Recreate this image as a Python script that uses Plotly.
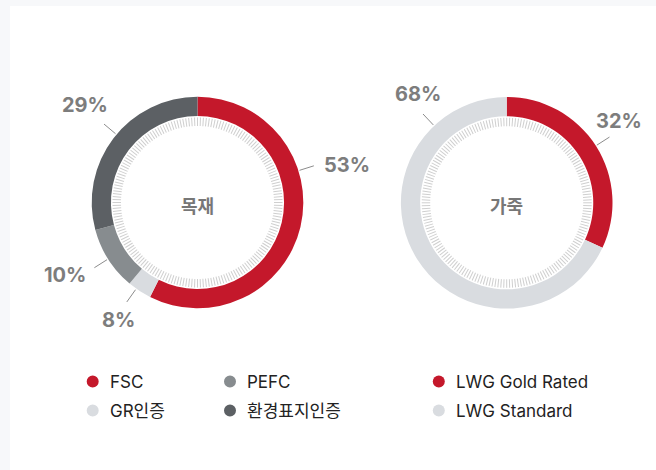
import math
import plotly.graph_objects as go

# ---------------- data ----------------
wood_labels = ["FSC", "GR인증", "PEFC", "환경표지인증"]
wood_values = [57.4, 3.7, 9.7, 29.2]          # arc shares as drawn
wood_text = ["53%", "8%", "10%", "29%"]       # printed percentages
leather_labels = ["LWG Gold Rated", "LWG Standard"]
leather_values = [32, 68]
leather_text = ["32%", "68%"]
center_titles = ["목재", "가죽"]

legend_columns = [["FSC", "GR인증"], ["PEFC", "환경표지인증"], ["LWG Gold Rated", "LWG Standard"]]

# ---------------- styles / layout ----------------
W, H = 656, 470
RED, LIGHT, MID, DARK = "#c4182b", "#d9dce0", "#878c8f", "#5c6064"
wood_colors = [RED, LIGHT, MID, DARK]
leather_colors = [RED, LIGHT]
color_of = dict(zip(wood_labels, wood_colors))
color_of.update(dict(zip(leather_labels, leather_colors)))

CENTERS = [(197.5, 202.5), (506.7, 202.8)]
R_OUT = 105.8
HOLE = 0.818
R_TICK = 85.5
FONT = "Inter, 'Noto Sans CJK KR', sans-serif"

# label placement: (leader angle, label angle, label radius) in degrees clockwise from 12 o'clock
wood_label_pos = [(72.5, 75.9, 153.8), (215.4, 213.9, 141.6), (237.7, 241.3, 151.0), (310.0, 310.8, 149.0)]
leather_label_pos = [(57.4, 53.9, 139.0), (316.7, 320.9, 140.8)]
LINE_R0, LINE_R1 = 107, 122


def fx(x):
    return x / W


def fy(y):
    return 1 - y / H


fig = go.Figure()
shapes = []
annotations = []

# white card
shapes.append(dict(type="rect", xref="paper", yref="paper", x0=fx(10), x1=1.01, y0=-0.01, y1=fy(6),
                   fillcolor="white", line=dict(width=0), layer="below"))

charts = [
    (wood_labels, wood_values, wood_colors, wood_text, wood_label_pos),
    (leather_labels, leather_values, leather_colors, leather_text, leather_label_pos),
]

polar_layouts = {}
for i, ((labels, values, colors, texts, lpos), (cx, cy), title) in enumerate(zip(charts, CENTERS, center_titles)):
    fig.add_trace(go.Pie(
        labels=labels, values=values, sort=False, direction="clockwise", rotation=0,
        hole=HOLE, marker=dict(colors=colors, line=dict(width=0)),
        textinfo="none", hoverinfo="label+percent", showlegend=False,
        domain=dict(x=[fx(cx - R_OUT), fx(cx + R_OUT)], y=[fy(cy + R_OUT), fy(cy - R_OUT)]),
    ))
    # tick ring via polar angular axis ticks
    pname = "polar" if i == 0 else f"polar{i + 1}"
    fig.add_trace(go.Scatterpolar(r=[None], theta=[None], subplot=pname, showlegend=False, hoverinfo="skip"))
    polar_layouts[pname] = dict(
        domain=dict(x=[fx(cx - R_TICK), fx(cx + R_TICK)], y=[fy(cy + R_TICK), fy(cy - R_TICK)]),
        bgcolor="rgba(0,0,0,0)",
        radialaxis=dict(visible=False),
        angularaxis=dict(rotation=90, direction="clockwise", tickmode="linear", tick0=0, dtick=2,
                         ticks="inside", ticklen=8.5, tickwidth=1, tickcolor="#cfcfcf",
                         showticklabels=False, showgrid=False, showline=False),
    )
    # center title
    annotations.append(dict(text=f"<b>{title}</b>", x=fx(cx), y=fy(cy + 4), xref="paper", yref="paper",
                            showarrow=False, font=dict(family=FONT, size=18, color="#777777"),
                            xanchor="center", yanchor="middle"))
    # leader lines + labels
    for t, (a_line, a_lab, r_lab) in zip(texts, lpos):
        sa, ca = math.sin(math.radians(a_line)), math.cos(math.radians(a_line))
        shapes.append(dict(type="line", xref="paper", yref="paper",
                           x0=fx(cx + LINE_R0 * sa), y0=fy(cy - LINE_R0 * ca),
                           x1=fx(cx + LINE_R1 * sa), y1=fy(cy - LINE_R1 * ca),
                           line=dict(color="#8c8c8c", width=1)))
        sb, cb = math.sin(math.radians(a_lab)), math.cos(math.radians(a_lab))
        annotations.append(dict(text=f"<b>{t}</b>", x=fx(cx + r_lab * sb), y=fy(cy - r_lab * cb),
                                xref="paper", yref="paper", showarrow=False,
                                font=dict(family=FONT, size=20, color="#7d7d7d"),
                                xanchor="center", yanchor="middle"))

# custom legend
LEG_X = [92.7, 230.0, 438.8]
LEG_Y = [381.5, 410.5]
DOT_R = 6
for col, names in enumerate(legend_columns):
    for row, name in enumerate(names):
        x, y = LEG_X[col], LEG_Y[row]
        shapes.append(dict(type="circle", xref="paper", yref="paper",
                           x0=fx(x - DOT_R), x1=fx(x + DOT_R), y0=fy(y + DOT_R), y1=fy(y - DOT_R),
                           fillcolor=color_of[name], line=dict(width=0)))
        annotations.append(dict(text=name, x=fx(x + 15), y=fy(y), xref="paper", yref="paper",
                                showarrow=False, xanchor="left", yanchor="middle",
                                font=dict(family=FONT, size=17, color="#222222")))

fig.update_layout(
    width=W, height=H, autosize=False,
    margin=dict(l=0, r=0, t=0, b=0),
    paper_bgcolor="#f7f8fa", plot_bgcolor="white",
    shapes=shapes, annotations=annotations, showlegend=False,
    **polar_layouts,
)

fig.write_html("out.html", config={"displayModeBar": False},
               post_script="document.body.style.margin='0';document.body.style.overflow='hidden';")
